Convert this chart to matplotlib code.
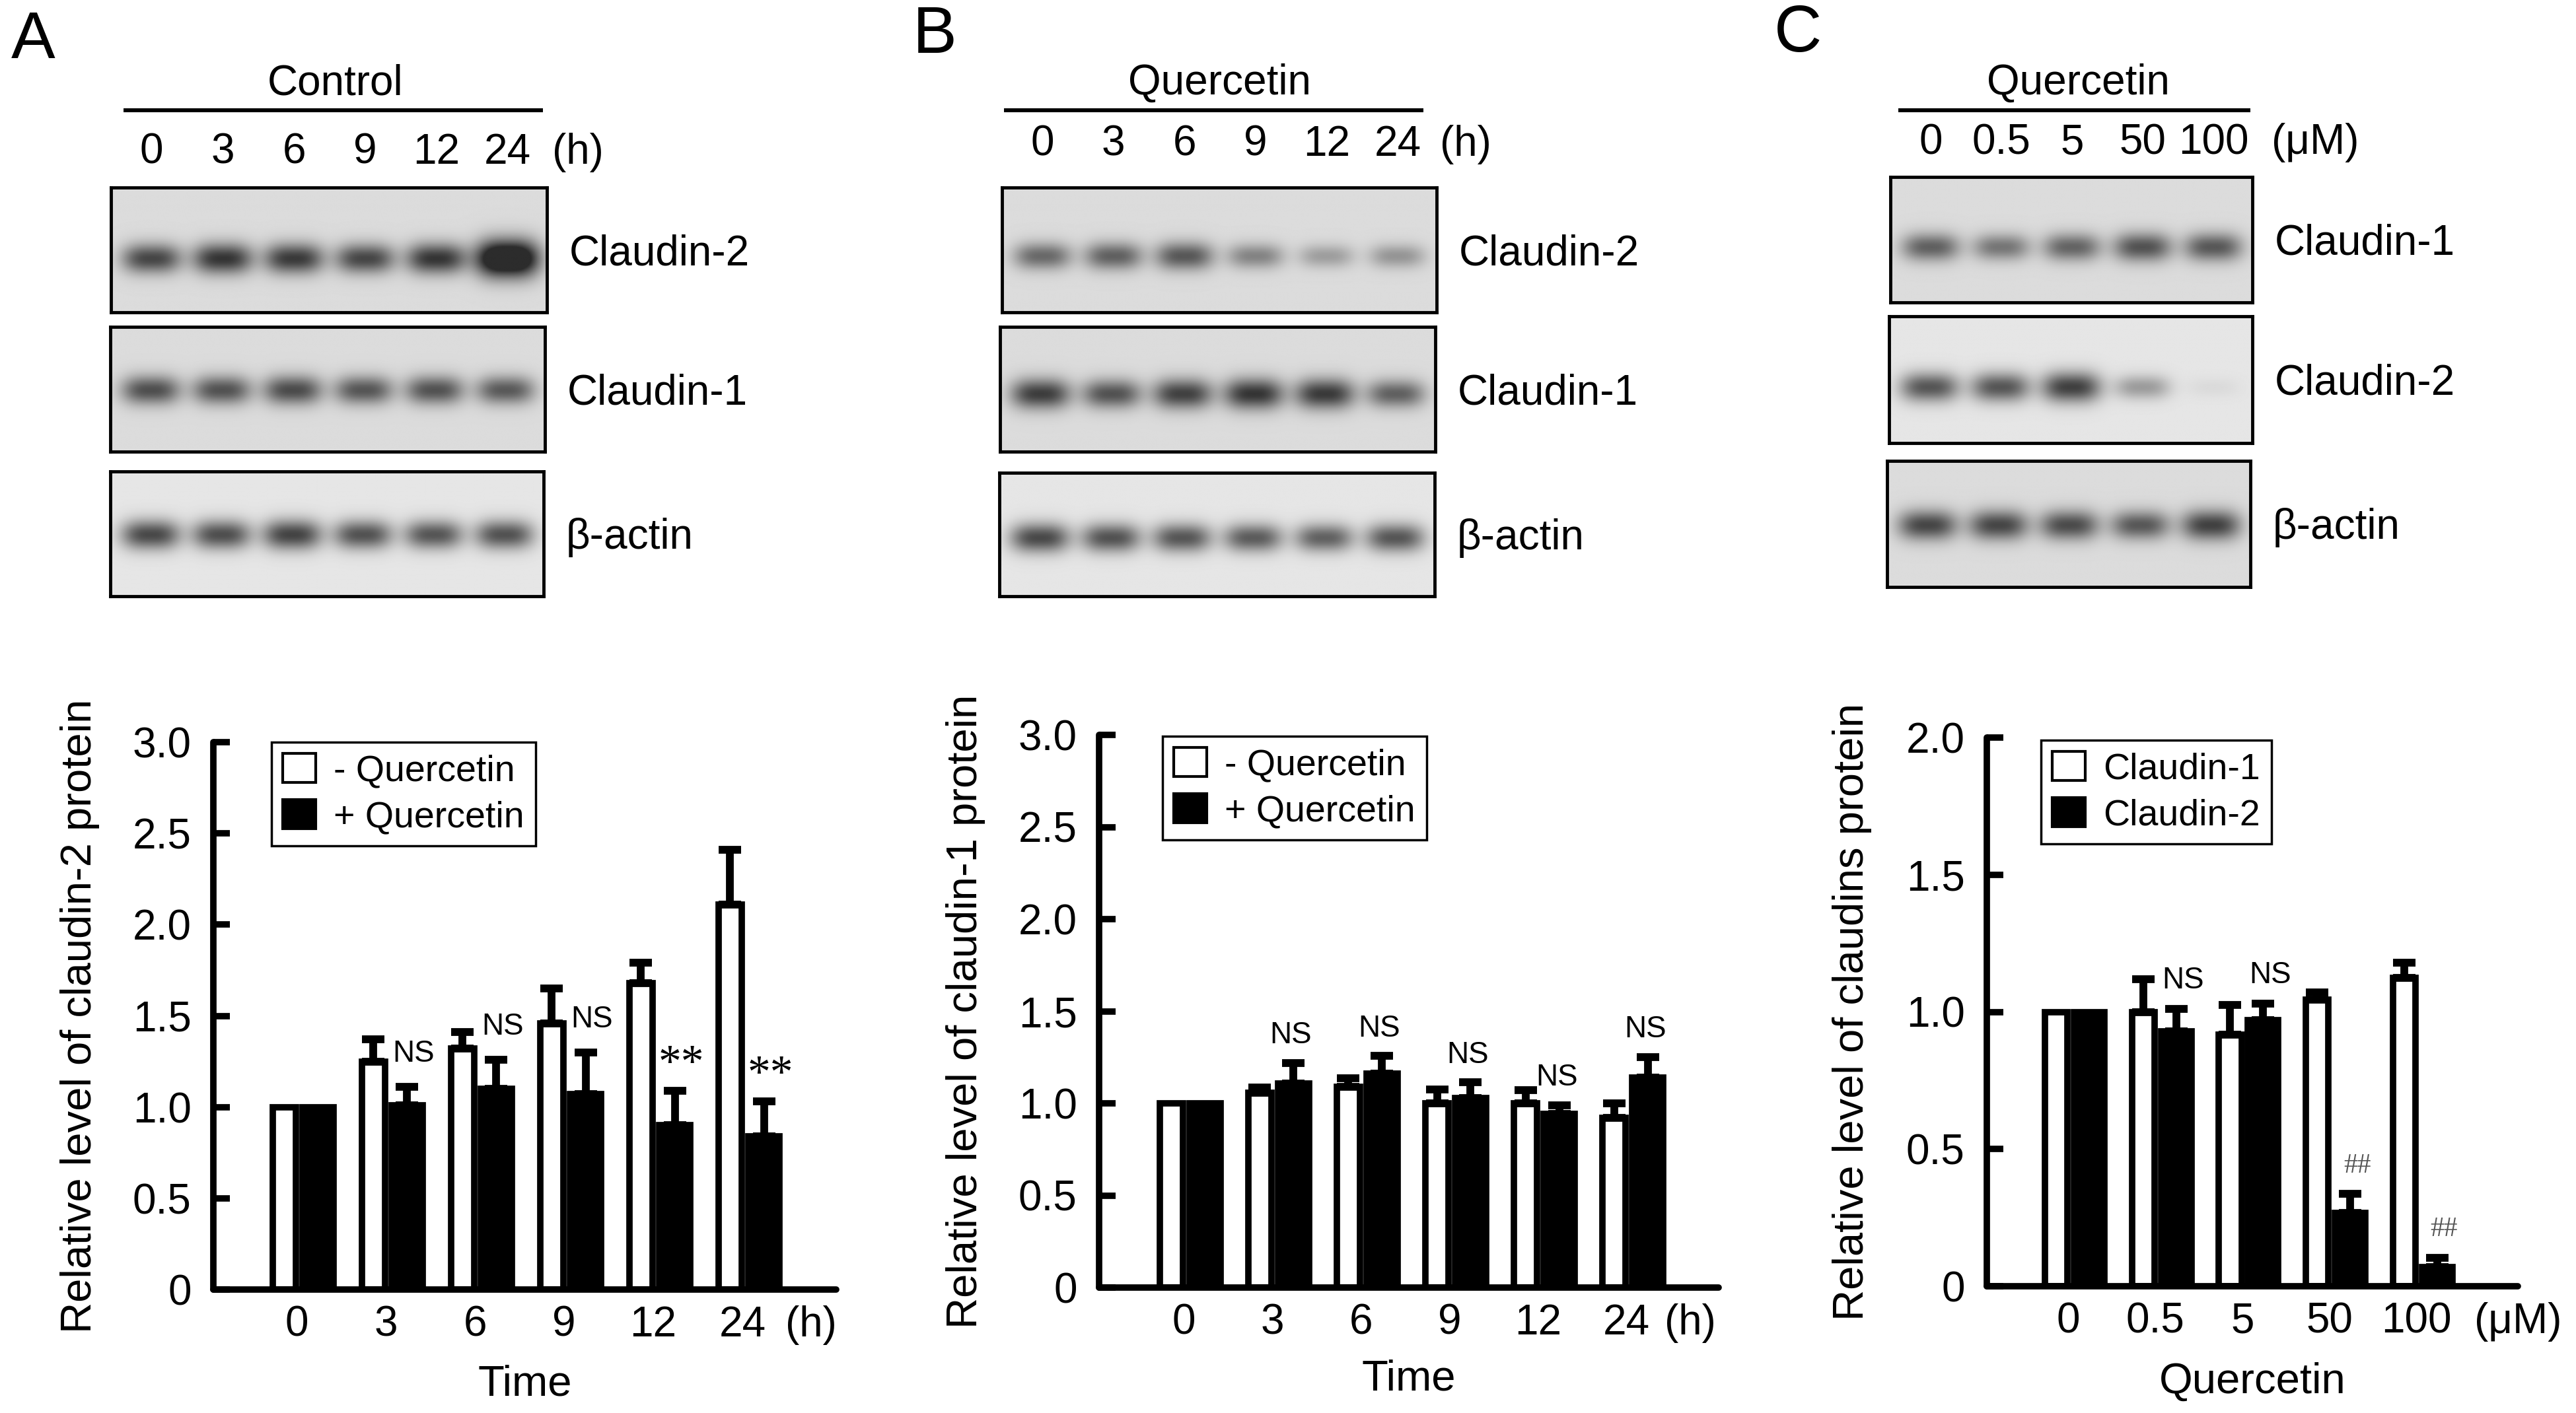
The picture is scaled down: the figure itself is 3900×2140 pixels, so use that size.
import numpy as np
import matplotlib
matplotlib.use('Agg')
import matplotlib.pyplot as plt
from matplotlib.patches import Patch
from matplotlib.lines import Line2D
from matplotlib.transforms import blended_transform_factory

plt.rcParams['font.family'] = ['Liberation Sans', 'DejaVu Sans']

W, H = 3900, 2140

# lane / group labels
time_labels = ['0', '3', '6', '9', '12', '24']
dose_labels = ['0', '0.5', '5', '50', '100']

# western blot band darkness per lane (read by eye)
blotA_cldn2 = [0.85, 0.95, 0.92, 0.85, 0.95, 1.5]
blotA_cldn1 = [0.8, 0.78, 0.82, 0.76, 0.78, 0.74]
blotA_actin = [0.85, 0.82, 0.88, 0.8, 0.78, 0.8]
blotB_cldn2 = [0.65, 0.7, 0.75, 0.5, 0.35, 0.4]
blotB_cldn1 = [0.9, 0.78, 0.88, 0.95, 0.92, 0.7]
blotB_actin = [0.85, 0.8, 0.78, 0.75, 0.72, 0.78]
blotC_cldn1 = [0.7, 0.58, 0.68, 0.78, 0.75]
blotC_cldn2 = [0.78, 0.78, 0.9, 0.4, 0.06]
blotC_actin = [0.85, 0.85, 0.82, 0.75, 0.88]

# densitometry, panel A (claudin-2)
a_ctrl = [1.0, 1.25, 1.32, 1.46, 1.68, 2.11]
a_ctrl_err = [0, 0.12, 0.09, 0.19, 0.11, 0.30]
a_quer = [1.0, 1.01, 1.10, 1.07, 0.90, 0.84]
a_quer_err = [0, 0.10, 0.16, 0.23, 0.19, 0.19]
a_sig = ['', 'NS', 'NS', 'NS', '**', '**']

# panel B (claudin-1)
b_ctrl = [1.0, 1.056, 1.09, 1.0, 1.0, 0.922]
b_ctrl_err = [0, 0.031, 0.047, 0.074, 0.07, 0.078]
b_quer = [1.0, 1.106, 1.16, 1.027, 0.943, 1.14]
b_quer_err = [0, 0.114, 0.097, 0.086, 0.047, 0.112]
b_sig = ['', 'NS', 'NS', 'NS', 'NS', 'NS']

# panel C (dose response)
c_cldn1 = [1.0, 1.0, 0.918, 1.045, 1.124]
c_cldn1_err = [0, 0.12, 0.107, 0.025, 0.056]
c_cldn2 = [1.0, 0.93, 0.97, 0.266, 0.07]
c_cldn2_err = [0, 0.08, 0.06, 0.07, 0.033]
c_sig = ['', 'NS', 'NS', '##', '##']

fig = plt.figure(figsize=(W / 100, H / 100), dpi=100)


def px_rect(l, t, r, b):
    return [l / W, 1 - b / H, (r - l) / W, (b - t) / H]


def fx(x):
    return x / W


def fy(y):
    return 1 - y / H


def draw_blot(rect, levels, center=0.54, bg=0.86):
    ax = fig.add_axes(px_rect(*rect))
    n = len(levels)
    x0, x1 = -0.57, n - 0.45
    xs = np.linspace(x0, x1, 700)
    ys = np.linspace(0, 1, 220)
    X, Y = np.meshgrid(xs, ys)
    dark = np.zeros_like(X)
    for i, a in enumerate(levels):
        hw = 0.37 + 0.05 * a
        hh = 0.075 + 0.05 * a
        dark += a * np.exp(-np.abs((X - i) / hw) ** 3) * np.exp(-((Y - center) / hh) ** 2)
    img = bg * (1 - 0.8 * np.clip(dark, 0, 1))
    ax.imshow(img, cmap='gray', vmin=0, vmax=1, extent=(x0, x1, 1, 0),
              aspect='auto', interpolation='bilinear')
    ax.set_xlim(x0, x1)
    ax.set_ylim(1, 0)
    ax.set_xticks([])
    ax.set_yticks([])
    for s in ax.spines.values():
        s.set_linewidth(3.5)
    return ax


def blot_label(ax, text):
    ax.annotate(text, xy=(1, 0.47), xycoords='axes fraction', xytext=(24, 0),
                textcoords='offset points', ha='left', va='center', fontsize=46)


def blot_header(ax, title, title_x, line_l, line_r, lab_y, lanes, unit, unit_off):
    fig.text(fx(title_x), fy(126), title, ha='center', va='center', fontsize=46)
    fig.add_artist(Line2D([fx(line_l), fx(line_r)], [fy(167), fy(167)],
                          color='black', lw=4.3, transform=fig.transFigure))
    tr = blended_transform_factory(ax.transData, fig.transFigure)
    for i, lab in enumerate(lanes):
        ax.text(i, fy(lab_y), lab, transform=tr, ha='center', va='center',
                fontsize=46, clip_on=False)
    ax.text(len(lanes) - 1 + unit_off, fy(lab_y), unit, transform=tr, ha='left',
            va='center', fontsize=46, clip_on=False)


def bar_panel(px, xlim, ymax, xlabels, unit, unit_pos, ctrl, ctrl_err, treat,
              treat_err, sig, sig_dx, sig_off, xlabel, ylabel, ylab_x, xlab_y,
              leg_labels, leg_px):
    l, r, y0, ytop = px
    ax = fig.add_axes(px_rect(l, ytop, r, y0))
    x = np.arange(len(ctrl))
    ax.bar(x - 0.14, ctrl, width=0.26, color='white', edgecolor='black',
           linewidth=7, zorder=2)
    ax.bar(x + 0.24, treat, width=0.35, color='black', edgecolor='black',
           linewidth=7, zorder=2)
    for xs, ys, es in ((x - 0.14, ctrl, ctrl_err), (x + 0.24, treat, treat_err)):
        ys = np.asarray(ys)
        es = np.asarray(es)
        m = es > 0
        ax.errorbar(xs[m], ys[m], yerr=[np.zeros(m.sum()), es[m]], fmt='none',
                    ecolor='black', elinewidth=8.5, capsize=12.5, capthick=8.5,
                    zorder=3)
    for i, s in enumerate(sig):
        if not s:
            continue
        top = treat[i] + treat_err[i]
        if s == '**':
            kw = dict(fontsize=50, family='Liberation Serif', color='black')
            off = sig_off - 8
        elif s == '##':
            kw = dict(fontsize=30, family='Liberation Serif', color='#555555')
            off = sig_off
        else:
            kw = dict(fontsize=33, color='black')
            off = sig_off
        ax.annotate(s, xy=(i + sig_dx, top), xytext=(0, off),
                    textcoords='offset points', ha='center', va='center', **kw)

    ax.set_xlim(*xlim)
    ax.set_ylim(0, ymax)
    yt = np.arange(0, ymax + 0.01, 0.5)
    ax.set_yticks(yt)
    ax.set_yticklabels(['0' if v == 0 else '%.1f' % v for v in yt])
    ax.set_xticks(list(x) + [unit_pos])
    ax.set_xticklabels(xlabels + [unit])
    ax.tick_params(axis='y', direction='in', length=18, width=7, pad=24,
                   labelsize=46)
    ax.tick_params(axis='x', length=0, pad=17, labelsize=46)
    for side in ('top', 'right'):
        ax.spines[side].set_visible(False)
    for side in ('left', 'bottom'):
        ax.spines[side].set_linewidth(7)
        ax.spines[side].set_capstyle('round')

    ax.set_ylabel(ylabel, fontsize=47, va='center')
    ax.yaxis.set_label_coords((ylab_x - l) / (r - l), 0.5)
    ax.set_xlabel(xlabel, fontsize=47, va='center')
    ax.xaxis.set_label_coords(0.5, (y0 - xlab_y) / (y0 - ytop))

    handles = [Patch(facecolor='white', edgecolor='black', linewidth=3),
               Patch(facecolor='black', edgecolor='black', linewidth=3)]
    leg = ax.legend(handles, leg_labels, loc='upper left',
                    bbox_to_anchor=(fx(leg_px[0]), fy(leg_px[1])),
                    bbox_transform=fig.transFigure, borderaxespad=0,
                    fontsize=40, frameon=True, fancybox=False, framealpha=1,
                    edgecolor='black', handlelength=0.9, handleheight=0.85,
                    handletextpad=0.5, borderpad=0.3, labelspacing=0.3)
    leg.get_frame().set_linewidth(2.5)
    return ax


# ---- panel letters
fig.text(fx(50), fy(62), 'A', ha='center', va='center', fontsize=72)
fig.text(fx(1415), fy(54), 'B', ha='center', va='center', fontsize=72)
fig.text(fx(2722), fy(52), 'C', ha='center', va='center', fontsize=72)

# ---- blots A
axA1 = draw_blot((168, 284, 828, 473), blotA_cldn2, center=0.57)
axA2 = draw_blot((167, 495, 825, 684), blotA_cldn1, center=0.51)
axA3 = draw_blot((167, 714, 823, 903), blotA_actin, center=0.51, bg=0.9)
blot_label(axA1, 'Claudin-2')
blot_label(axA2, 'Claudin-1')
blot_label(axA3, 'β-actin')
blot_header(axA1, 'Control', 508, 190, 819, 231, time_labels, '(h)', 0.62)

# ---- blots B
axB1 = draw_blot((1517, 284, 2175, 473), blotB_cldn2, center=0.55)
axB2 = draw_blot((1514, 495, 2173, 684), blotB_cldn1, center=0.54)
axB3 = draw_blot((1513, 716, 2172, 903), blotB_actin, center=0.53, bg=0.9)
blot_label(axB1, 'Claudin-2')
blot_label(axB2, 'Claudin-1')
blot_label(axB3, 'β-actin')
blot_header(axB1, 'Quercetin', 1846, 1523, 2152, 219, time_labels, '(h)', 0.6)

# ---- blots C
axC1 = draw_blot((2862, 268, 3410, 458), blotC_cldn1, center=0.56)
axC2 = draw_blot((2860, 479, 3410, 671), blotC_cldn2, center=0.56, bg=0.9)
axC3 = draw_blot((2857, 698, 3407, 889), blotC_actin, center=0.51)
blot_label(axC1, 'Claudin-1')
blot_label(axC2, 'Claudin-2')
blot_label(axC3, 'β-actin')
blot_header(axC1, 'Quercetin', 3146, 2877, 3404, 216, dose_labels, '(μM)', 0.82)

# ---- bar charts
bar_panel((323, 1266, 1953, 1124), (-0.933, 6.05), 3.0, time_labels, '(h)', 5.77,
          a_ctrl, a_ctrl_err, a_quer, a_quer_err, a_sig, 0.31, 36,
          'Time', 'Relative level of claudin-2 protein', 121, 2096,
          ['- Quercetin', '+ Quercetin'], (411, 1124))
bar_panel((1664, 2602, 1950, 1113), (-0.954, 6.04), 3.0, time_labels, '(h)', 5.72,
          b_ctrl, b_ctrl_err, b_quer, b_quer_err, b_sig, 0.21, 30,
          'Time', 'Relative level of claudin-1 protein', 1462, 2089,
          ['- Quercetin', '+ Quercetin'], (1760, 1115))
bar_panel((3008, 3812, 1948, 1117), (-0.94, 5.11), 2.0, dose_labels, '(μM)', 5.17,
          c_cldn1, c_cldn1_err, c_cldn2, c_cldn2_err, c_sig, 0.32, 31,
          'Quercetin', 'Relative level of claudins protein', 2804, 2093,
          ['Claudin-1', 'Claudin-2'], (3090, 1121))

fig.savefig('out.png', dpi=100, facecolor='white')
